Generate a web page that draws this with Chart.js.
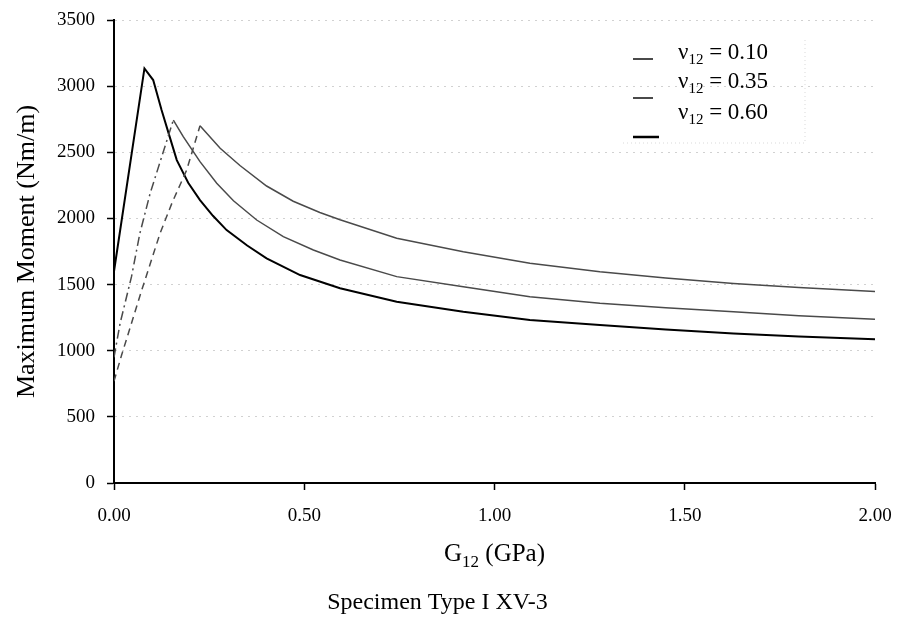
<!DOCTYPE html>
<html>
<head>
<meta charset="utf-8">
<title>Maximum Moment x G12</title>
<script src="https://cdn.jsdelivr.net/npm/chart.js@4.4.1/dist/chart.umd.min.js"></script>
<style>
  html, body { margin: 0; padding: 0; background: #fff; }
  #graficoMomento { display: block; }
</style>
</head>
<body>
<canvas id="graficoMomento" width="899" height="631"></canvas>
<script>
// G12 (GPa) e momento maximo (Nm/m)
const nu10G = [0, 0.02, 0.073, 0.121, 0.152, 0.191, 0.226, 0.279, 0.331, 0.401, 0.471, 0.541, 0.594, 0.743, 0.918, 1.093, 1.277, 1.45, 1.628, 1.8, 2.0];
const nu10M = [770, 967, 1459, 1887, 2114, 2366, 2700, 2530, 2400, 2245, 2130, 2045, 1990, 1850, 1748, 1661, 1597, 1550, 1509, 1478, 1447];

const nu35G = [0, 0.016, 0.046, 0.068, 0.095, 0.156, 0.182, 0.226, 0.27, 0.314, 0.375, 0.445, 0.524, 0.594, 0.743, 0.918, 1.093, 1.277, 1.45, 1.628, 1.8, 2.0];
const nu35M = [950, 1207, 1560, 1887, 2190, 2744, 2618, 2429, 2266, 2134, 1988, 1862, 1761, 1686, 1560, 1484, 1408, 1358, 1325, 1295, 1265, 1237];

const nu60G = [0, 0, 0.08, 0.103, 0.125, 0.145, 0.165, 0.195, 0.226, 0.26, 0.296, 0.35, 0.401, 0.489, 0.594, 0.743, 0.918, 1.093, 1.277, 1.45, 1.628, 1.8, 2.0];
const nu60M = [0, 1600, 3134, 3046, 2819, 2630, 2441, 2270, 2139, 2020, 1912, 1795, 1698, 1572, 1472, 1370, 1295, 1232, 1194, 1160, 1131, 1108, 1086];

const nuValores = ["0.10", "0.35", "0.60"];
const ticksX = [0, 0.5, 1, 1.5, 2];
const ticksY = [0, 500, 1000, 1500, 2000, 2500, 3000, 3500];
const legenda = "Specimen Type I XV-3";

const serifa = '"Liberation Serif", "Times New Roman", serif';
Chart.defaults.font.family = serifa;
Chart.defaults.color = "#000";

function pontos(xs, ys) {
  return xs.map((x, i) => ({ x: x, y: ys[i] }));
}

// trecho subindo fica tracejado
function subida(padrao) {
  return (c) => (c.p1.parsed.y > c.p0.parsed.y ? padrao : undefined);
}

// texto com indice (v12, G12)
function comIndice(ctx, base, indice, resto, x, yMeio, tam, tamIndice, centro) {
  const fonte = tam + "px " + serifa;
  const fonteIndice = tamIndice + "px " + serifa;
  ctx.font = fonte;
  const w1 = ctx.measureText(base).width;
  const w3 = ctx.measureText(resto).width;
  ctx.font = fonteIndice;
  const w2 = ctx.measureText(indice).width;
  let x0 = centro ? x - (w1 + w2 + w3) / 2 : x;
  const base_y = yMeio + tam * 0.33;
  ctx.textAlign = "left";
  ctx.textBaseline = "alphabetic";
  ctx.fillStyle = "#000";
  ctx.font = fonte;
  ctx.fillText(base, x0, base_y);
  ctx.font = fonteIndice;
  ctx.fillText(indice, x0 + w1, base_y + tam * 0.22);
  ctx.font = fonte;
  ctx.fillText(resto, x0 + w1 + w2, base_y);
}

const quadro = { linhaX: 633, linhaY: [59, 98, 137], textoX: 678, textoY: [51, 80, 111], direita: 805, baixo: 143 };

const textosExtras = {
  id: "textosExtras",
  afterDraw(chart) {
    const ctx = chart.ctx;
    const area = chart.chartArea;
    ctx.save();
    // caixa da legenda (bem apagada, como no original)
    ctx.strokeStyle = "rgba(0,0,0,0.15)";
    ctx.lineWidth = 1;
    ctx.setLineDash([1, 3]);
    ctx.beginPath();
    ctx.moveTo(quadro.linhaX - 10, quadro.baixo);
    ctx.lineTo(quadro.direita, quadro.baixo);
    ctx.lineTo(quadro.direita, 40);
    ctx.stroke();
    ctx.setLineDash([]);

    chart.data.datasets.forEach((ds, i) => {
      ctx.strokeStyle = ds.borderColor;
      ctx.lineWidth = ds.borderWidth + 0.5;
      ctx.beginPath();
      ctx.moveTo(quadro.linhaX, quadro.linhaY[i]);
      ctx.lineTo(quadro.linhaX + (i === 2 ? 26 : 20), quadro.linhaY[i]);
      ctx.stroke();
      comIndice(ctx, "\u03bd", "12", " = " + nuValores[i], quadro.textoX, quadro.textoY[i], 23, 15, false);
    });

    // titulo do eixo x
    comIndice(ctx, "G", "12", " (GPa)", (area.left + area.right) / 2, 553, 25, 17, true);
    ctx.restore();
  }
};

const ctx = document.querySelector("#graficoMomento");

const grafico = new Chart(ctx, {
  type: "line",
  data: {
    datasets: [
      {
        label: "\u03bd12 = " + nuValores[0],
        data: pontos(nu10G, nu10M),
        borderColor: "#4a4a4a",
        borderWidth: 1.5,
        segment: { borderDash: subida([7, 5]) }
      },
      {
        label: "\u03bd12 = " + nuValores[1],
        data: pontos(nu35G, nu35M),
        borderColor: "#4a4a4a",
        borderWidth: 1.5,
        segment: { borderDash: subida([9, 4, 2, 4]) }
      },
      {
        label: "\u03bd12 = " + nuValores[2],
        data: pontos(nu60G, nu60M),
        borderColor: "#000",
        borderWidth: 2
      }
    ]
  },
  options: {
    responsive: false,
    animation: false,
    devicePixelRatio: 1,
    layout: { padding: { top: 20, right: 24, left: 0, bottom: 0 } },
    elements: { point: { radius: 0 }, line: { tension: 0 } },
    plugins: {
      legend: { display: false },
      tooltip: { enabled: false },
      title: {
        display: true,
        position: "bottom",
        text: legenda,
        font: { size: 24, weight: "normal" },
        color: "#000",
        padding: { top: 15.6, bottom: 13.6 }
      }
    },
    scales: {
      x: {
        type: "linear",
        min: 0,
        max: 2,
        afterBuildTicks: (s) => { s.ticks = ticksX.map((v) => ({ value: v })); },
        afterFit: (s) => {
          s.height = 90;
          s.paddingLeft = 0;
          s.paddingRight = 0;
        },
        ticks: {
          font: { size: 19 },
          color: "#000",
          padding: 15,
          maxRotation: 0,
          callback: (v) => Number(v).toFixed(2)
        },
        grid: { drawOnChartArea: false, tickLength: 7, tickColor: "#000", tickWidth: 1.5 },
        border: { color: "#000", width: 2 }
      },
      y: {
        min: 0,
        max: 3500,
        afterBuildTicks: (s) => { s.ticks = ticksY.map((v) => ({ value: v })); },
        afterFit: (s) => {
          s.width = 114;
          s.paddingTop = 0;
          s.paddingBottom = 0;
        },
        ticks: { font: { size: 19 }, color: "#000", padding: 12, callback: (v) => String(v) },
        grid: {
          color: (c) => (c.tick && c.tick.value === 0 ? "rgba(0,0,0,0)" : "rgba(0,0,0,0.18)"),
          tickColor: "#000",
          tickLength: 7,
          tickWidth: 1.5
        },
        border: { color: "#000", width: 2, dash: [2, 5] },
        title: {
          display: true,
          text: "Maximum Moment (Nm/m)",
          font: { size: 26 },
          color: "#000",
          padding: { top: 12, bottom: 0 }
        }
      }
    }
  },
  plugins: [textosExtras]
});
</script>
</body>
</html>
